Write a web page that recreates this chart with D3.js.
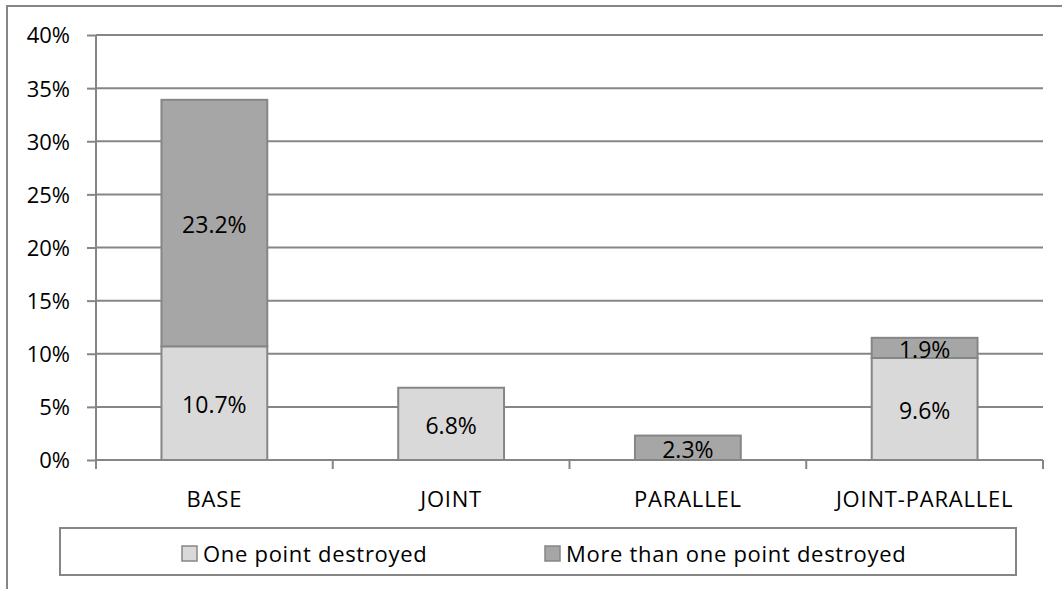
<!DOCTYPE html>
<html>
<head>
<meta charset="utf-8">
<script src="https://cdn.jsdelivr.net/npm/d3@7"></script>
<style>
    body { margin: 0; background: #fff; }
    text { font-family: "Open Sans", sans-serif; fill: #000; }
</style>
</head>
<body>
<svg id="chart"></svg>
<script>
'use strict';

(function () {
    const categories = ['BASE', 'JOINT', 'PARALLEL', 'JOINT-PARALLEL'];
    const seriesNames = ['One point destroyed', 'More than one point destroyed'];
    const onePoint = [10.7, 6.8, 0, 9.6];
    const morePoints = [23.2, 0, 2.3, 1.9];
    const yTicks = [0, 5, 10, 15, 20, 25, 30, 35, 40];

    const colors = ['#d9d9d9', '#a6a6a6'];
    const lineColor = '#868686';

    const width = 1062;
    const height = 589;
    const margin = {top: 35, right: 19, bottom: 129, left: 96};

    const svg = d3.select('#chart')
        .attr('width', width)
        .attr('height', height);

    // outer chart border
    svg.append('rect')
        .attr('x', 7)
        .attr('y', 6)
        .attr('width', width + 10)
        .attr('height', height + 10)
        .attr('fill', 'none')
        .attr('stroke', lineColor)
        .attr('stroke-width', 2);

    const scaleX = d3.scaleBand()
        .domain(categories)
        .range([margin.left, width - margin.right])
        .paddingInner(0.553)
        .paddingOuter(0.2765);

    const scaleY = d3.scaleLinear()
        .domain([0, 40])
        .range([height - margin.bottom, margin.top]);

    const rows = categories.map((c, i) => ({cat: c, one: onePoint[i], more: morePoints[i]}));
    const stacked = d3.stack().keys(['one', 'more'])(rows);

    // gridlines + y axis
    const yAxis = svg.append('g')
        .attr('transform', `translate(${margin.left},0)`)
        .call(d3.axisLeft(scaleY)
            .tickValues(yTicks)
            .tickSize(9)
            .tickPadding(17)
            .tickFormat(d => d + '%'));

    yAxis.select('.domain').remove();
    yAxis.selectAll('.tick line')
        .attr('stroke', lineColor)
        .attr('stroke-width', 2);
    yAxis.selectAll('.tick text')
        .attr('dy', '0.36em')
        .style('font-size', '22px');

    svg.append('g')
        .selectAll('line')
        .data(yTicks.filter(d => d > 0))
        .join('line')
        .attr('x1', margin.left)
        .attr('x2', width - margin.right)
        .attr('y1', d => scaleY(d))
        .attr('y2', d => scaleY(d))
        .attr('stroke', lineColor)
        .attr('stroke-width', 2);

    svg.append('line')
        .attr('x1', margin.left)
        .attr('x2', margin.left)
        .attr('y1', scaleY(40))
        .attr('y2', scaleY(0))
        .attr('stroke', lineColor)
        .attr('stroke-width', 2);

    // bars
    const layers = svg.append('g')
        .selectAll('g')
        .data(stacked)
        .join('g')
        .attr('fill', (d, i) => colors[i]);

    layers.selectAll('rect')
        .data(d => d.filter(p => p[1] - p[0] > 0))
        .join('rect')
        .attr('x', d => scaleX(d.data.cat))
        .attr('width', scaleX.bandwidth())
        .attr('y', d => scaleY(d[1]))
        .attr('height', d => scaleY(d[0]) - scaleY(d[1]))
        .attr('stroke', lineColor)
        .attr('stroke-width', 2);

    layers.selectAll('text')
        .data(d => d.filter(p => p[1] - p[0] > 0))
        .join('text')
        .attr('x', d => scaleX(d.data.cat) + scaleX.bandwidth() / 2)
        .attr('y', d => (scaleY(d[0]) + scaleY(d[1])) / 2 + 4)
        .attr('text-anchor', 'middle')
        .attr('dominant-baseline', 'middle')
        .style('font-size', '23px')
        .text(d => (d[1] - d[0]).toFixed(1) + '%');

    // x axis
    const outer = d3.scalePoint()
        .domain(d3.range(categories.length + 1))
        .range([margin.left, width - margin.right]);

    const xAxis = svg.append('g')
        .attr('transform', `translate(0,${scaleY(0)})`);

    xAxis.append('line')
        .attr('x1', margin.left)
        .attr('x2', width - margin.right)
        .attr('stroke', lineColor)
        .attr('stroke-width', 2);

    xAxis.selectAll('.xtick')
        .data(outer.domain())
        .join('line')
        .attr('class', 'xtick')
        .attr('x1', d => outer(d))
        .attr('x2', d => outer(d))
        .attr('y1', 0)
        .attr('y2', 9)
        .attr('stroke', lineColor)
        .attr('stroke-width', 2);

    xAxis.selectAll('text')
        .data(categories)
        .join('text')
        .attr('x', d => scaleX(d) + scaleX.bandwidth() / 2)
        .attr('y', 41)
        .attr('text-anchor', 'middle')
        .attr('dominant-baseline', 'middle')
        .style('font-size', '22px')
        .style('letter-spacing', '0.8px')
        .text(d => d);

    // legend
    const legend = svg.append('g');

    legend.append('rect')
        .attr('x', 60)
        .attr('y', 528)
        .attr('width', 956)
        .attr('height', 47)
        .attr('fill', '#fff')
        .attr('stroke', lineColor)
        .attr('stroke-width', 2);

    const legendX = [182, 545];

    const items = legend.selectAll('.item')
        .data(seriesNames)
        .join('g')
        .attr('class', 'item')
        .attr('transform', (d, i) => `translate(${legendX[i]},546)`);

    items.append('rect')
        .attr('width', 15)
        .attr('height', 15)
        .attr('fill', (d, i) => colors[i])
        .attr('stroke', lineColor)
        .attr('stroke-width', 1.5);

    items.append('text')
        .attr('x', 21)
        .attr('y', 10)
        .attr('dominant-baseline', 'middle')
        .style('font-size', '22px')
        .style('letter-spacing', '0.7px')
        .text(d => d);
})();
</script>
</body>
</html>
